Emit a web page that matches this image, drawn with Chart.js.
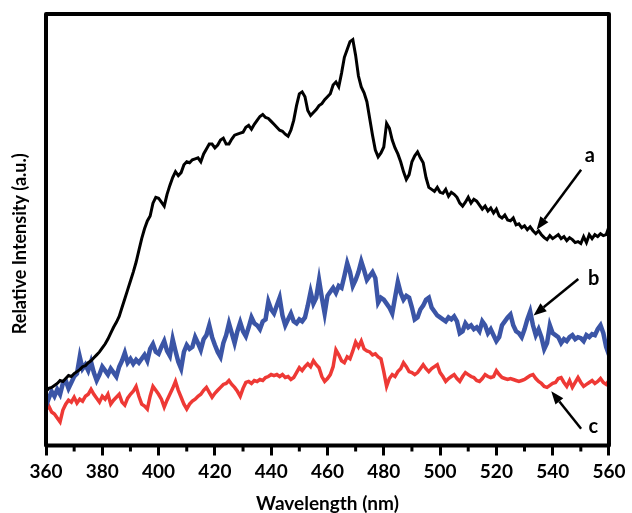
<!DOCTYPE html>
<html>
<head>
<meta charset="utf-8">
<script src="https://cdn.jsdelivr.net/npm/chart.js@4.4.1/dist/chart.umd.min.js"></script>
<style>
  html, body { margin: 0; padding: 0; background: #fff; }
  #wrap { width: 632px; height: 513px; }
</style>
</head>
<body>
<div id="wrap"><canvas id="myChart" width="632" height="513"></canvas></div>
<script>
// wavelength grid (nm)
const wavelengths = [
  360,361,362,363,364,365,366,367,368,369,370,371,372,373,374,375,376,377,378,379,
  380,381,382,383,384,385,386,387,388,389,390,391,392,393,394,395,396,397,398,399,
  400,401,402,403,404,405,406,407,408,409,410,411,412,413,414,415,416,417,418,419,
  420,421,422,423,424,425,426,427,428,429,430,431,432,433,434,435,436,437,438,439,
  440,441,442,443,444,445,446,447,448,449,450,451,452,453,454,455,456,457,458,459,
  460,461,462,463,464,465,466,467,468,469,470,471,472,473,474,475,476,477,478,479,
  480,481,482,483,484,485,486,487,488,489,490,491,492,493,494,495,496,497,498,499,
  500,501,502,503,504,505,506,507,508,509,510,511,512,513,514,515,516,517,518,519,
  520,521,522,523,524,525,526,527,528,529,530,531,532,533,534,535,536,537,538,539,
  540,541,542,543,544,545,546,547,548,549,550,551,552,553,554,555,556,557,558,559,
  560
];

// relative intensity (a.u.)
const seriesA = [
  55,58,59,61,63,66,65,68,71,70, 73,75,77,80,81,84,86,89,92,95,
  99,103,108,114,120,125,131,140,149,158, 167,176,186,198,210,220,228,233,246,252,
  251,247,243,255,264,272,278,274,277,285, 288,287,290,291,292,288,296,301,306,306,
  302,305,310,312,306,306,311,315,316,317, 318,323,325,321,326,330,334,336,333,332,
  329,326,323,320,319,316,314,320,330,345, 357,359,354,340,335,338,341,345,347,351,
  354,357,366,369,364,378,394,402,410,412, 396,375,364,358,349,332,315,300,293,297,
  303,327,322,310,302,296,288,278,270,275, 288,294,298,292,287,272,262,260,258,262,
  257,256,260,253,257,255,252,246,243,247, 252,246,250,248,244,240,243,238,241,236,
  240,233,231,234,229,228,231,224,225,221, 223,219,222,218,215,218,214,211,209,213,
  210,212,214,210,212,208,211,209,206,207, 205,212,206,214,210,214,212,215,213,214,
  222
];
const seriesB = [
  40,48,55,50,57,52,63,66,58,64, 70,73,90,78,82,76,85,74,66,72,
  80,76,72,78,74,70,80,86,94,84, 88,83,87,84,88,92,86,98,103,95,
  93,100,106,96,91,108,96,85,78,95, 102,98,100,110,104,97,108,112,122,110,
  102,95,90,104,112,124,114,104,116,125, 116,111,120,130,124,122,118,126,128,146,
  138,134,142,150,132,122,128,134,126,124, 128,126,130,142,156,144,150,168,150,134,
  152,156,160,155,162,160,172,185,176,162, 168,176,187,178,168,172,176,170,145,150,
  148,144,140,134,150,166,155,148,152,150, 140,128,130,138,142,148,150,140,136,132,
  130,128,126,130,128,131,126,114,116,124, 120,122,118,120,116,126,122,114,118,112,
  106,110,122,126,130,133,122,116,114,110, 118,128,136,122,112,118,110,98,104,122,
  114,112,110,104,108,106,110,112,108,110, 109,106,112,110,113,112,118,122,114,100,
  92
];
const seriesC = [
  36,40,34,32,28,24,36,42,46,44, 49,43,47,45,50,52,57,52,48,44,
  50,47,52,42,46,49,52,44,41,48, 52,55,60,50,42,40,37,50,60,56,
  52,47,39,46,52,58,65,56,49,42, 37,42,45,47,50,52,56,59,54,49,
  53,56,59,62,63,66,62,59,55,50, 58,64,65,63,66,65,67,66,69,70,
  72,71,72,70,72,69,70,67,69,74, 79,76,80,83,80,86,82,79,70,65,
  68,72,80,97,92,86,84,90,88,96, 105,100,106,98,96,95,92,93,90,88,
  75,60,68,72,70,75,78,84,80,75, 74,72,74,78,82,78,75,78,80,82,
  74,70,65,68,70,72,68,65,70,74, 72,70,69,66,65,68,72,70,69,70,
  76,72,69,68,67,68,67,66,65,66, 67,69,71,72,68,65,63,60,59,61,
  63,64,68,69,64,60,66,59,64,69, 64,60,62,64,66,63,65,68,64,62,
  66
];

const seriesLabels = ['a', 'b', 'c'];
// arrow labels: [tailX, tailY, tipX, tipY, textX, textY] in data units
const arrowA = [550.1, 280, 534.3, 219, 553.2, 294];
const arrowB = [549.1, 169, 533.2, 132, 554.6, 169];
const arrowC = [550.1, 17, 539.5, 55, 554.4, 19];

const toPoints = (ys) => ys.map((y, i) => ({x: wavelengths[i], y: y}));

const frameAndNotes = {
  id: 'frameAndNotes',
  afterDatasetsDraw(chart) {
    const {ctx, chartArea: a, scales: {x, y}} = chart;
    ctx.save();
    // frame
    ctx.strokeStyle = '#000';
    ctx.lineWidth = 4;
    ctx.lineJoin = 'round';
    ctx.strokeRect(a.left, a.top, a.right - a.left, a.bottom - a.top);
    // minor ticks
    ctx.lineWidth = 3;
    for (let v = 370; v < 560; v += 20) {
      const px = x.getPixelForValue(v);
      ctx.beginPath();
      ctx.moveTo(px, a.bottom);
      ctx.lineTo(px, a.bottom + 6);
      ctx.stroke();
    }
    // y title
    ctx.fillStyle = '#000';
    ctx.font = 'bold 18px Lato, "Open Sans", sans-serif';
    ctx.textAlign = 'center';
    ctx.textBaseline = 'middle';
    ctx.translate(20, (a.top + a.bottom) / 2 + 14);
    ctx.rotate(-Math.PI / 2);
    ctx.fillText('Relative Intensity (a.u.)', 0, 0);
    ctx.restore();

    // arrows
    ctx.save();
    ctx.fillStyle = '#000';
    ctx.strokeStyle = '#000';
    ctx.font = 'bold 20px Lato, "Open Sans", sans-serif';
    ctx.textAlign = 'center';
    ctx.textBaseline = 'middle';
    [arrowA, arrowB, arrowC].forEach((ar, i) => {
      const x0 = x.getPixelForValue(ar[0]), y0 = y.getPixelForValue(ar[1]);
      const x1 = x.getPixelForValue(ar[2]), y1 = y.getPixelForValue(ar[3]);
      const ang = Math.atan2(y1 - y0, x1 - x0);
      const hl = 13, hw = 5;
      const bx = x1 - hl * Math.cos(ang), by = y1 - hl * Math.sin(ang);
      ctx.lineWidth = 2.5;
      ctx.beginPath();
      ctx.moveTo(x0, y0);
      ctx.lineTo(bx, by);
      ctx.stroke();
      ctx.beginPath();
      ctx.moveTo(x1, y1);
      ctx.lineTo(bx + hw * Math.sin(ang), by - hw * Math.cos(ang));
      ctx.lineTo(bx - hw * Math.sin(ang), by + hw * Math.cos(ang));
      ctx.closePath();
      ctx.fill();
      ctx.fillText(seriesLabels[i], x.getPixelForValue(ar[4]), y.getPixelForValue(ar[5]));
    });
    ctx.restore();
  }
};

const ctx = document.getElementById('myChart').getContext('2d');

const myChart = new Chart(ctx, {
  type: 'line',
  data: {
    datasets: [
      { label: 'a', data: toPoints(seriesA), borderColor: '#000000', borderWidth: 3 },
      { label: 'b', data: toPoints(seriesB), borderColor: '#3b55a6', borderWidth: 4.5 },
      { label: 'c', data: toPoints(seriesC), borderColor: '#ee3935', borderWidth: 3.5 }
    ]
  },
  options: {
    responsive: false,
    animation: false,
    parsing: false,
    elements: { point: { radius: 0 }, line: { tension: 0, borderJoinStyle: 'miter' } },
    layout: { padding: { left: 46, right: 19, top: 14, bottom: 0 } },
    plugins: { legend: { display: false }, tooltip: { enabled: false } },
    scales: {
      x: {
        type: 'linear',
        min: 360,
        max: 560,
        border: { display: false },
        grid: { drawOnChartArea: false, drawTicks: true, tickLength: 10, tickWidth: 3, tickColor: '#000' },
        ticks: {
          stepSize: 20, autoSkip: false, maxRotation: 0, padding: 6.5, color: '#000',
          font: { family: 'Lato, "Open Sans", sans-serif', size: 19, weight: 'bold', lineHeight: 1 }
        },
        title: {
          display: true, text: 'Wavelength (nm)', color: '#000', padding: { top: 6.5, bottom: 0 },
          font: { family: 'Lato, "Open Sans", sans-serif', size: 19, weight: 'bold', lineHeight: 1 }
        }
      },
      y: {
        display: false,
        min: 0,
        max: 438
      }
    }
  },
  plugins: [frameAndNotes]
});
</script>
</body>
</html>
